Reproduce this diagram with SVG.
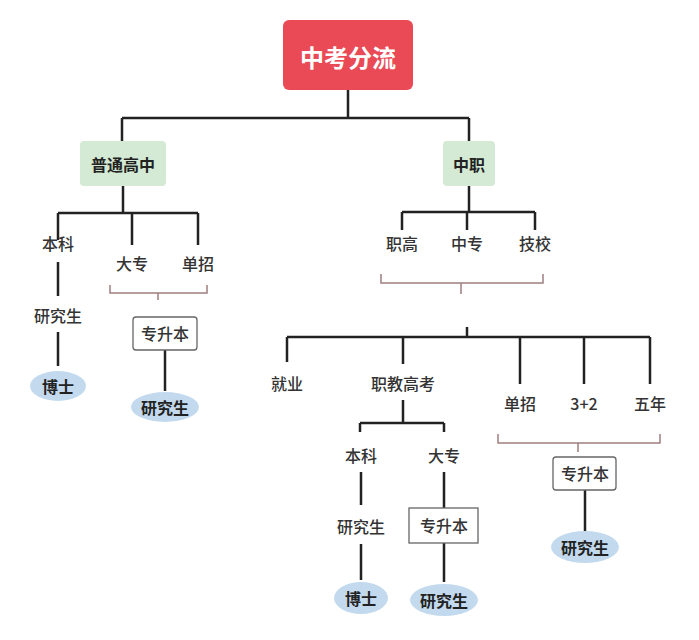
<svg xmlns="http://www.w3.org/2000/svg" width="699" height="640" viewBox="0 0 699 640">
<style>
text{font-family:"Noto Sans CJK SC","Noto Sans",sans-serif;font-size:16px;fill:#333;text-anchor:middle;dominant-baseline:central;font-weight:500}
.b{font-weight:700;fill:#222}
.ln{stroke:#222;stroke-width:2.5;fill:none}
.br{stroke:#a07f7f;stroke-width:1.5;fill:none}
.ov{fill:#c3daee}
.bx{fill:#fff;stroke:#666;stroke-width:1.3}
</style>
<rect width="699" height="640" fill="#fff"/>
<g id="connectors">
<path class="ln" d="M348 90V118M122 118H469M122 118V141M469 118V141"/>
<path class="ln" d="M123 186V213M58 213H198M58 213V240M132 213V245M198 213V245"/>
<path class="ln" d="M58 262V296M58 332V366"/>
<path class="br" d="M110 285V293H207V285M158 293V300"/>
<path class="ln" d="M165 350V391"/>
<path class="ln" d="M469 186V212M402 212H535M402 212V230M467 212V230M535 212V230"/>
<path class="br" d="M381 274V283H543V274M461 283V294"/>
<path class="ln" d="M467 327V337M287 337H650M287 337V362M403 337V364M520 337V384M584 337V384M650 337V384"/>
<path class="ln" d="M403 400V423M360 423H444M360 423V432M444 423V432"/>
<path class="ln" d="M361 472V505M361 544V580M444 472V508M444 543V582"/>
<path class="br" d="M498 434V443H660V434M578 443V452"/>
<path class="ln" d="M585 490V532"/>
</g>
<g id="root"><rect x="283" y="20" width="130" height="70" rx="6" fill="#e94a55"/><text x="348" y="56" style="font-size:24px;fill:#fff;font-weight:700">中考分流</text></g>
<g id="gz"><rect x="80" y="141" width="86" height="45" rx="4" fill="#d4ead4"/><text class="b" x="123" y="164">普通高中</text></g>
<g id="zz"><rect x="443" y="141" width="52" height="45" rx="4" fill="#d4ead4"/><text class="b" x="469" y="164">中职</text></g>
<g id="l-bk"><text x="58" y="243">本科</text></g>
<g id="l-dz"><text x="132" y="263">大专</text></g>
<g id="l-dzh"><text x="198" y="263">单招</text></g>
<g id="l-yjs"><text x="58" y="315">研究生</text></g>
<g id="l-bs"><ellipse class="ov" cx="58" cy="386" rx="28" ry="15"/><text class="b" x="58" y="386">博士</text></g>
<g id="l-zsb"><rect class="bx" x="133" y="317" width="64" height="33" rx="3"/><text x="165" y="333">专升本</text></g>
<g id="l-yjs2"><ellipse class="ov" cx="165" cy="407" rx="34" ry="15"/><text class="b" x="165" y="407">研究生</text></g>
<g id="r-zg"><text x="402" y="243">职高</text></g>
<g id="r-zzh"><text x="467" y="243">中专</text></g>
<g id="r-jx"><text x="535" y="243">技校</text></g>
<g id="r-jy"><text x="287" y="383">就业</text></g>
<g id="r-zjgk"><text x="403" y="383">职教高考</text></g>
<g id="r-dzh"><text x="520" y="403">单招</text></g>
<g id="r-32"><text x="584" y="403">3+2</text></g>
<g id="r-wn"><text x="650" y="403">五年</text></g>
<g id="r-bk"><text x="361" y="455">本科</text></g>
<g id="r-dz"><text x="444" y="455">大专</text></g>
<g id="r-yjs"><text x="361" y="526">研究生</text></g>
<g id="r-bs"><ellipse class="ov" cx="361" cy="598" rx="27" ry="16"/><text class="b" x="361" y="598">博士</text></g>
<g id="r-zsb"><rect class="bx" x="409" y="508" width="69" height="35"/><text x="444" y="525">专升本</text></g>
<g id="r-yjs2"><ellipse class="ov" cx="444" cy="600" rx="34" ry="16"/><text class="b" x="444" y="600">研究生</text></g>
<g id="r-zsb2"><rect class="bx" x="553" y="457" width="63" height="33" rx="3"/><text x="585" y="473">专升本</text></g>
<g id="r-yjs3"><ellipse class="ov" cx="585" cy="547" rx="34" ry="16"/><text class="b" x="585" y="547">研究生</text></g>
</svg>
